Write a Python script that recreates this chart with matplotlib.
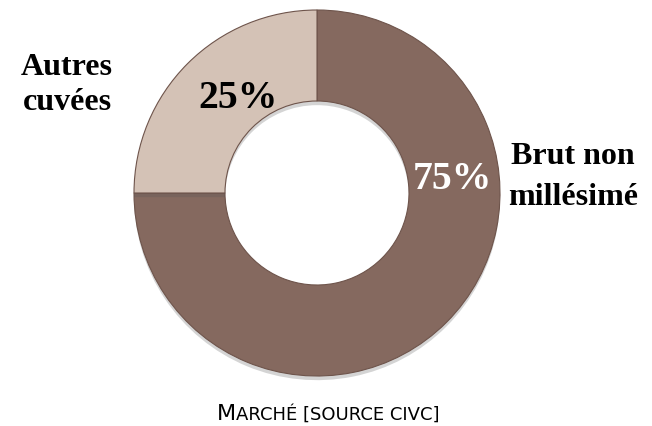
import matplotlib.pyplot as plt
import matplotlib.patheffects as pe

categories = ["Brut non\nmillésimé", "Autres\ncuvées"]
shares = [75, 25]
colors = ["#85695f", "#d4c2b6"]
caption = "Marché [source civc]"

fig = plt.figure(figsize=(6.52, 4.26), dpi=100)
ax = fig.add_axes([0, 0, 1, 1])

wedges, _ = ax.pie(shares, colors=colors, startangle=90, counterclock=False,
                   center=(317, 233), radius=183, frame=True,
                   wedgeprops=dict(width=91, edgecolor="#6e544b", linewidth=0.8))
for w in wedges:
    w.set_path_effects([pe.SimplePatchShadow(offset=(0, -3), alpha=0.25, shadow_rgbFace="#555555"),
                        pe.Normal()])

ax.set_xlim(0, 652)
ax.set_ylim(0, 426)
ax.set_aspect("equal")
ax.axis("off")

serif = "Liberation Serif"

# percentages
ax.text(452, 426 - 189, f"{shares[0]}%", color="white", fontsize=28.5, fontweight="bold",
        family=serif, ha="center", va="baseline")
ax.text(238, 426 - 108, f"{shares[1]}%", color="black", fontsize=28.5, fontweight="bold",
        family=serif, ha="center", va="baseline")

# category labels (baseline = last line)
ax.text(573, 426 - 205, categories[0], fontsize=23, fontweight="bold", family=serif,
        ha="center", va="baseline", linespacing=1.55)
ax.text(67, 426 - 110, categories[1], fontsize=23, fontweight="bold", family=serif,
        ha="center", va="baseline", linespacing=1.26)

# caption in small caps: big first letter, rest smaller
t1 = ax.text(0, 426 - 420, caption[0].upper(), fontsize=16, family="DejaVu Sans",
             ha="left", va="baseline")
t2 = ax.annotate(caption[1:].upper(), xy=(1, 0), xycoords=t1, fontsize=13,
                 family="DejaVu Sans", ha="left", va="bottom")
fig.canvas.draw()
r = fig.canvas.get_renderer()
x0 = t1.get_window_extent(r).x0
x1 = t2.get_window_extent(r).x1
t1.set_x(328 - (x1 - x0) / 2)

fig.savefig("out.png", dpi=100)
